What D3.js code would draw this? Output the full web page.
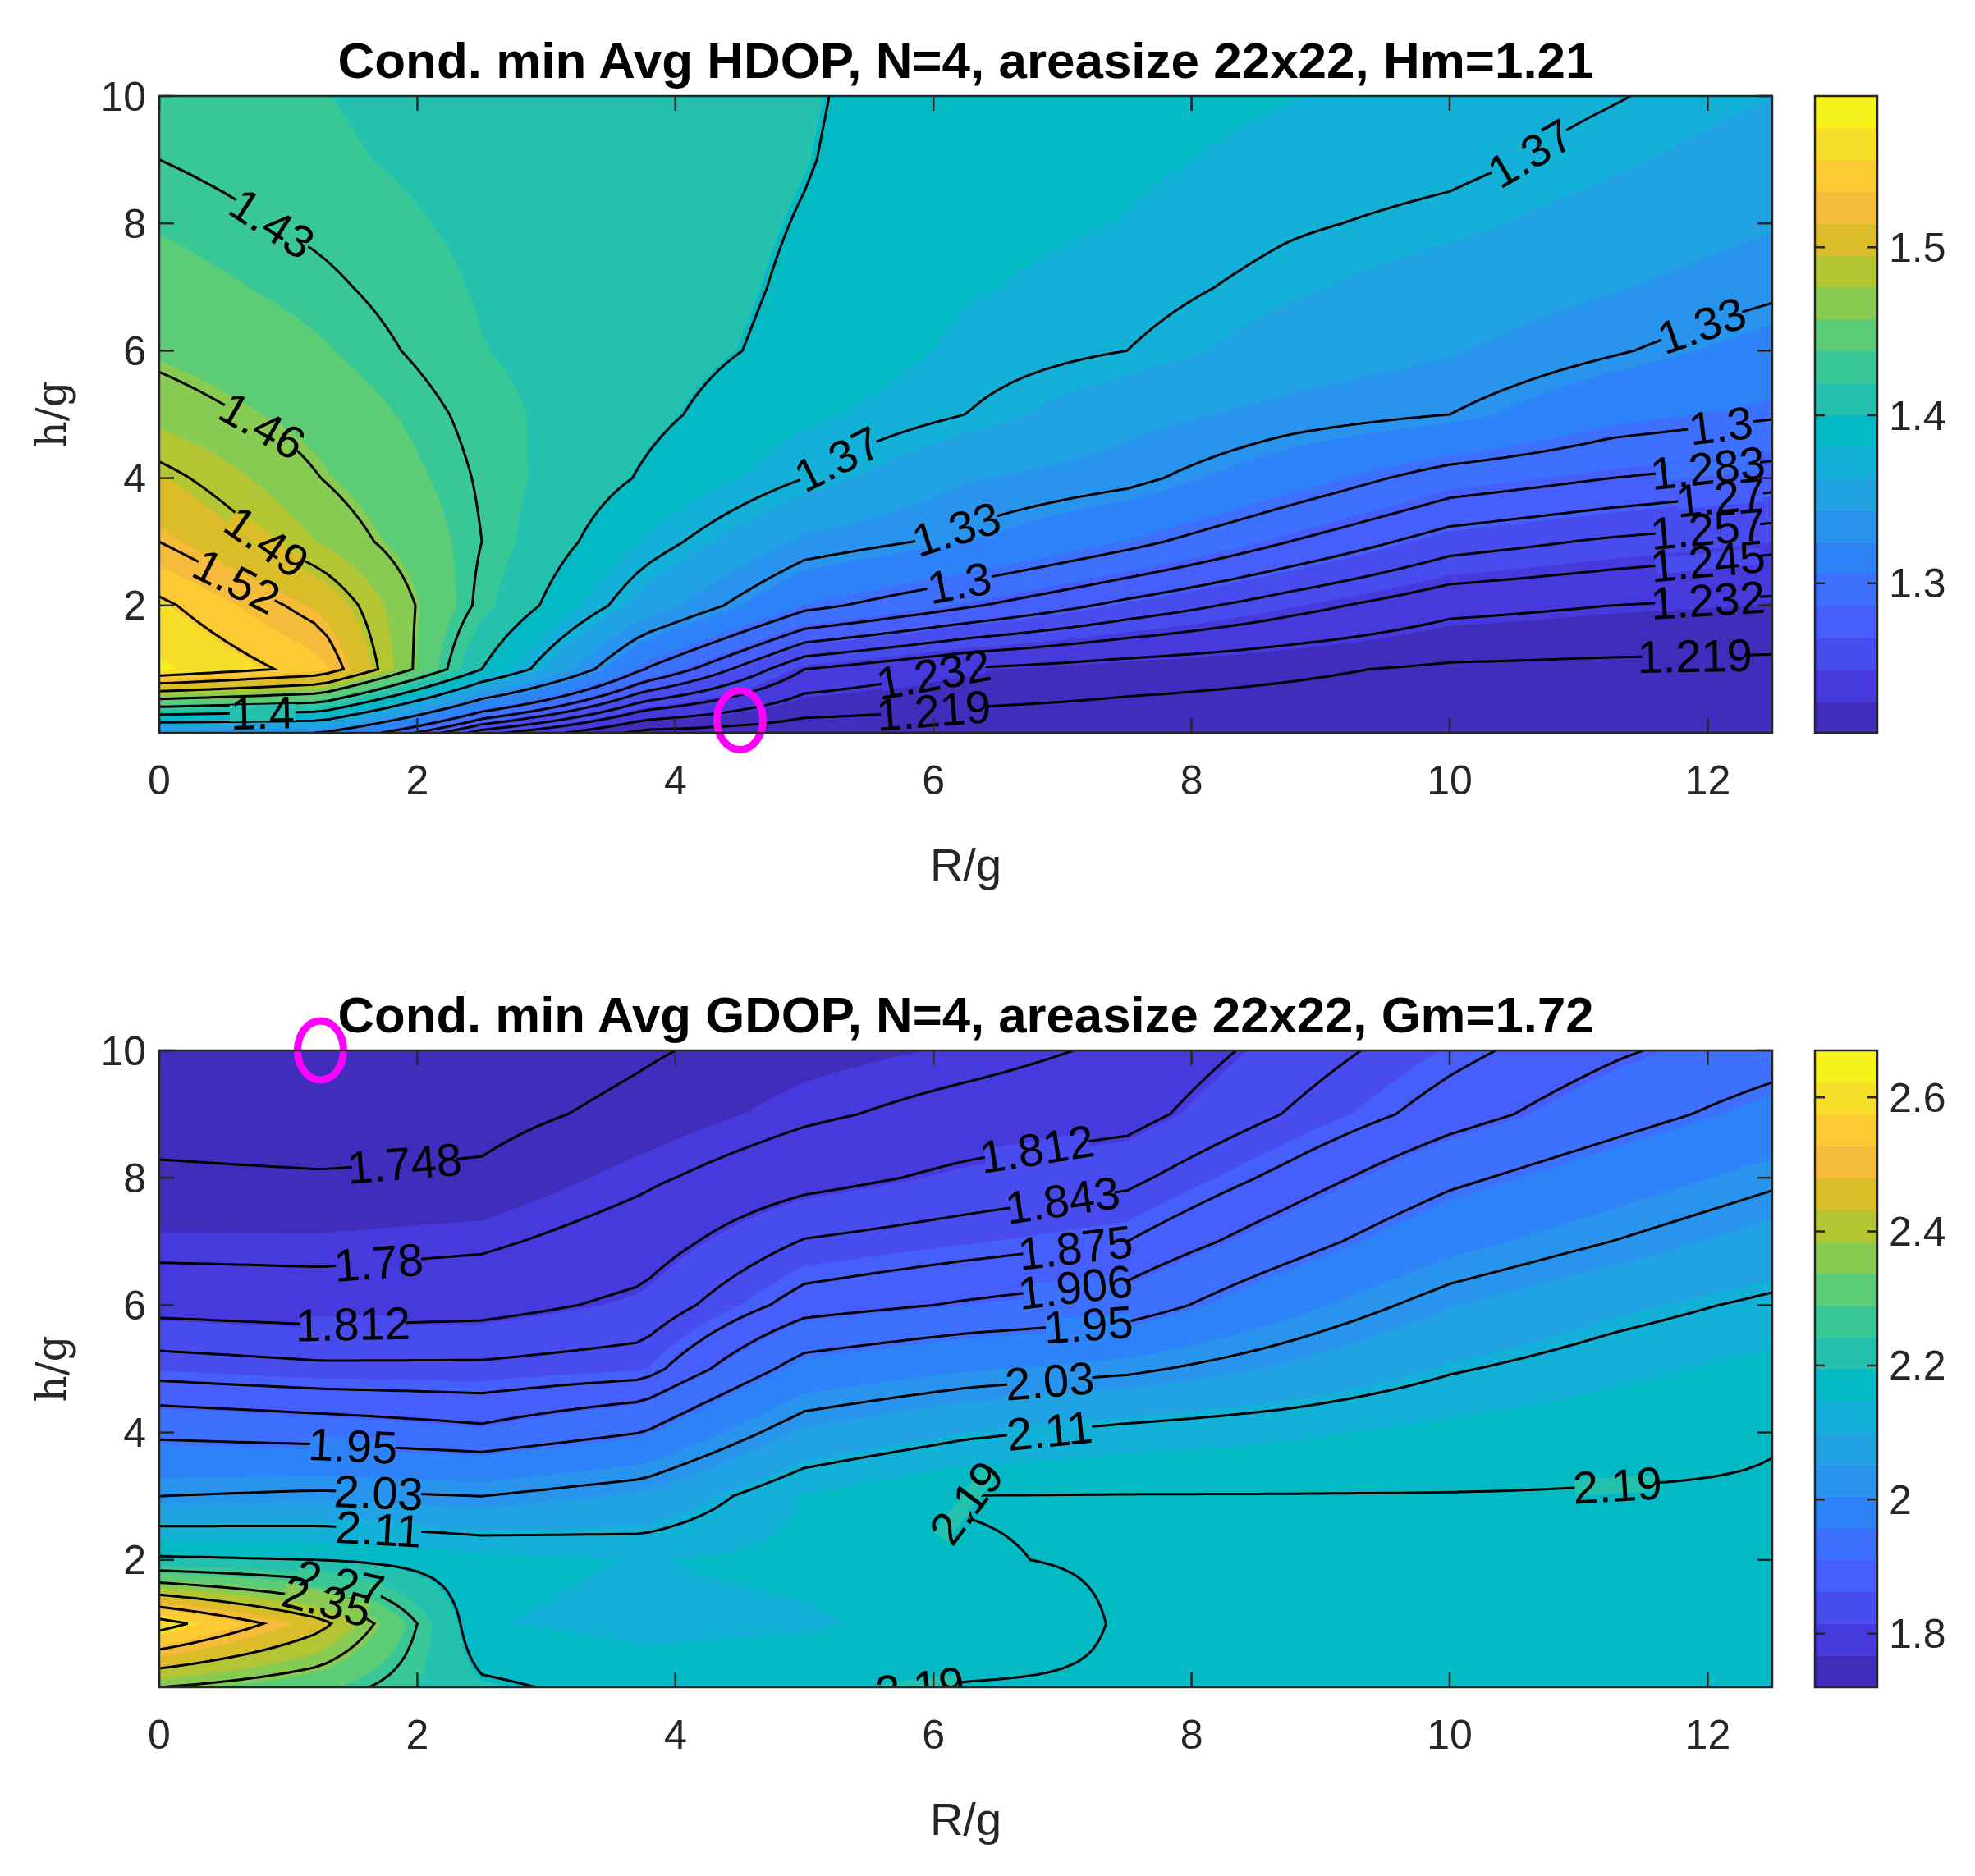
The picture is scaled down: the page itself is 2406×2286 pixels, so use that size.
<!DOCTYPE html><html><head><meta charset="utf-8">
<script src="https://cdn.jsdelivr.net/npm/d3@7"></script>
<style>body{margin:0;background:#fff}</style></head><body>
<svg id="c" width="2406" height="2286"></svg>
<script>
const xKnots=[0,1.25,2.5,3.75,5,6.25,7.5,8.75,10,11.25,12.5];
const yKnots=[0,1,2,3,4,5,6,7,8,9,10];
// hdop[xi][yi]
const hdop=[
[1.33,1.575,1.555,1.52,1.497,1.47,1.455,1.445,1.437,1.43,1.425],
[1.33,1.54,1.51,1.475,1.46,1.45,1.44,1.433,1.427,1.422,1.42],
[1.25,1.40,1.425,1.43,1.428,1.425,1.42,1.418,1.416,1.414,1.412],
[1.215,1.30,1.355,1.38,1.398,1.405,1.408,1.41,1.41,1.41,1.41],
[1.211,1.245,1.305,1.34,1.37,1.385,1.395,1.397,1.399,1.401,1.402],
[1.211,1.231,1.285,1.325,1.345,1.37,1.378,1.383,1.386,1.388,1.389],
[1.211,1.225,1.266,1.305,1.335,1.35,1.37,1.376,1.381,1.384,1.386],
[1.211,1.221,1.25,1.283,1.313,1.338,1.355,1.365,1.372,1.378,1.382],
[1.211,1.217,1.236,1.263,1.292,1.33,1.345,1.355,1.366,1.374,1.378],
[1.211,1.216,1.232,1.255,1.283,1.31,1.332,1.345,1.356,1.365,1.371],
[1.211,1.216,1.229,1.249,1.276,1.302,1.318,1.334,1.345,1.355,1.363]];
const gdop=[
[2.35,2.62,2.2,2.03,1.94,1.86,1.80,1.77,1.752,1.738,1.728],
[2.3,2.45,2.19,2.04,1.93,1.85,1.795,1.77,1.75,1.735,1.725],
[2.2,2.15,2.16,2.03,1.915,1.85,1.80,1.775,1.752,1.74,1.73],
[2.17,2.135,2.145,2.06,1.95,1.86,1.82,1.795,1.775,1.755,1.745],
[2.185,2.14,2.16,2.15,2.06,1.97,1.89,1.845,1.80,1.775,1.76],
[2.192,2.17,2.188,2.191,2.10,2.0,1.91,1.86,1.82,1.79,1.77],
[2.193,2.193,2.193,2.192,2.125,2.02,1.925,1.875,1.835,1.80,1.785],
[2.193,2.193,2.193,2.192,2.14,2.06,1.99,1.93,1.885,1.845,1.825],
[2.193,2.193,2.193,2.192,2.16,2.105,2.05,1.99,1.94,1.89,1.865],
[2.193,2.193,2.193,2.193,2.175,2.135,2.09,2.03,1.98,1.93,1.90],
[2.193,2.193,2.193,2.193,2.188,2.16,2.12,2.07,2.02,1.97,1.93]];
const hLevels=[1.219,1.232,1.245,1.257,1.27,1.283,1.3,1.33,1.37,1.4,1.43,1.46,1.49,1.52,1.55];
const gLevels=[1.748,1.78,1.812,1.843,1.875,1.906,1.95,2.03,2.11,2.19,2.27,2.35,2.43,2.51,2.59];
const hLabels=[[1.43,0.85,8.0],[1.46,0.75,4.8],[1.49,0.9,3.2],[1.52,0.6,2.2],[1.4,0.8,0.15],[1.37,5.3,4.2],[1.37,10.7,9],[1.33,6.1,3.5],[1.33,12,6.2],[1.3,12.1,4.7],[1.3,6.2,2.6],[1.283,12,4.1],[1.27,12.1,3.7],[1.257,12,3.2],[1.245,12,2.6],[1.232,12,2.0],[1.219,11.9,1.3],[1.219,6,0.8],[1.232,6,1.2]];
const gLabels=[[1.748,1.9,7.9],[1.78,1.7,6.4],[1.812,1.5,5.5],[1.812,6.8,8.7],[1.843,7,8],[1.875,7.1,7.3],[1.906,7.1,6.6],[1.95,1.5,3.8],[1.95,7.2,5.8],[2.03,1.7,2.8],[2.03,6.9,4.7],[2.11,6.9,3.7],[2.11,1.7,2.3],[2.19,5.3,2.2],[2.19,11.3,3.4],[2.19,4.8,0.3],[2.27,1.4,1.7],[2.35,1.3,1.3]];
const hCbTicks=[1.3,1.4,1.5], gCbTicks=[1.8,2,2.2,2.4,2.6];
const xTicks=[0,2,4,6,8,10,12], yTicks=[2,4,6,8,10];

const parulaTable=[[0.2422,0.1504,0.6603],[0.2504,0.1650,0.7076],[0.2578,0.1818,0.7511],[0.2647,0.1978,0.7952],[0.2706,0.2147,0.8364],[0.2751,0.2342,0.8710],[0.2783,0.2559,0.8991],[0.2803,0.2782,0.9221],[0.2813,0.3006,0.9414],[0.2810,0.3228,0.9579],[0.2795,0.3447,0.9717],[0.2760,0.3667,0.9829],[0.2699,0.3892,0.9906],[0.2602,0.4123,0.9952],[0.2440,0.4358,0.9988],[0.2206,0.4603,0.9973],[0.1963,0.4847,0.9892],[0.1834,0.5074,0.9798],[0.1786,0.5289,0.9682],[0.1764,0.5499,0.9520],[0.1687,0.5703,0.9359],[0.1540,0.5902,0.9218],[0.1460,0.6091,0.9079],[0.1380,0.6276,0.8973],[0.1248,0.6459,0.8883],[0.1113,0.6635,0.8763],[0.0952,0.6798,0.8598],[0.0689,0.6948,0.8394],[0.0297,0.7082,0.8163],[0.0036,0.7203,0.7917],[0.0067,0.7312,0.7660],[0.0433,0.7411,0.7394],[0.0964,0.7500,0.7120],[0.1408,0.7584,0.6842],[0.1717,0.7670,0.6554],[0.1938,0.7758,0.6251],[0.2161,0.7843,0.5923],[0.2470,0.7918,0.5567],[0.2906,0.7973,0.5188],[0.3406,0.8008,0.4789],[0.3909,0.8029,0.4354],[0.4456,0.8024,0.3909],[0.5044,0.7993,0.3480],[0.5616,0.7942,0.3045],[0.6174,0.7876,0.2612],[0.6720,0.7793,0.2227],[0.7242,0.7698,0.1910],[0.7738,0.7598,0.1646],[0.8203,0.7498,0.1535],[0.8634,0.7406,0.1596],[0.9035,0.7330,0.1774],[0.9393,0.7288,0.2100],[0.9728,0.7298,0.2394],[0.9956,0.7434,0.2371],[0.9970,0.7659,0.2199],[0.9952,0.7893,0.2028],[0.9892,0.8136,0.1885],[0.9786,0.8386,0.1766],[0.9676,0.8639,0.1643],[0.9610,0.8890,0.1537],[0.9597,0.9135,0.1423],[0.9628,0.9373,0.1265],[0.9691,0.9606,0.1064],[0.9769,0.9839,0.0805]];
const parula=d3.interpolateRgbBasis(parulaTable.map(c=>d3.rgb(c[0]*255,c[1]*255,c[2]*255)));
const svg=d3.select("#c");
const FONT="'Liberation Sans Narrow','Liberation Sans',sans-serif";
const NX=126,NY=101;
function upsample(grid){
 const v=new Array(NX*NY);
 const fx=d3.scaleLinear().domain(xKnots).range(d3.range(xKnots.length));
 const fy=d3.scaleLinear().domain(yKnots).range(d3.range(yKnots.length));
 for(let j=0;j<NY;j++)for(let i=0;i<NX;i++){
  const X=i/(NX-1)*12.5,Y=j/(NY-1)*10;
  let a=fx(X),b=fy(Y);let i0=Math.min(Math.floor(a),xKnots.length-2),j0=Math.min(Math.floor(b),yKnots.length-2);
  const tx=a-i0,ty=b-j0;
  v[j*NX+i]=grid[i0][j0]*(1-tx)*(1-ty)+grid[i0+1][j0]*tx*(1-ty)+grid[i0][j0+1]*(1-tx)*ty+grid[i0+1][j0+1]*tx*ty;
 }
 return v;
}
function panel(id,top,grid,vmin,vmax,levels,labels,cbTicks,title,circle){
 const L=194,R=2159,T=top,B=top+776;
 const x=d3.scaleLinear().domain([0,12.5]).range([L,R]);
 const y=d3.scaleLinear().domain([0,10]).range([B,T]);
 const g=svg.append("g");
 g.append("clipPath").attr("id",id).append("rect").attr("x",L).attr("y",T).attr("width",R-L).attr("height",B-T);
 const vals=upsample(grid);
 const gx=d=>x((d-0.5)/(NX-1)*12.5), gy=d=>y((d-0.5)/(NY-1)*10);
 const proj=d3.geoTransform({point:function(px,py){this.stream.point(gx(px),gy(py));}});
 const path=d3.geoPath(proj);
 const nb=20, step=(vmax-vmin)/nb, th=d3.range(nb).map(k=>vmin+k*step);
 const bandColor=v=>parula((Math.max(0,Math.min(nb-1,Math.floor((v-vmin)/step)))+0.5)/nb);
 const cg=g.append("g").attr("clip-path",`url(#${id})`);
 cg.append("rect").attr("x",L).attr("y",T).attr("width",R-L).attr("height",B-T).attr("fill",parula(0.5/nb));
 const cont=d3.contours().size([NX,NY]).smooth(true);
 th.forEach((t,k)=>{ if(k==0)return; cg.append("path").attr("d",path(cont.contour(vals,t))).attr("fill",parula((k+0.5)/nb)).attr("stroke",parula((k+0.5)/nb)).attr("stroke-width",0.5);});
 const lineFn=d3.line();
 const lines=[];
 levels.forEach(l=>{
  const mp=cont.contour(vals,l);
  mp.coordinates.forEach(poly=>poly.forEach(ring=>{
   let seg=[];
   ring.forEach(p=>{
    const onB=p[0]<=0.01||p[0]>=NX-0.01||p[1]<=0.01||p[1]>=NY-0.01;
    if(onB){if(seg.length>1)lines.push({l,pts:seg});seg=[];}
    else seg.push([gx(p[0]),gy(p[1])]);
   });
   if(seg.length>1)lines.push({l,pts:seg});
  }));
 });
 lines.forEach(s=>cg.append("path").attr("d",lineFn(s.pts)).attr("fill","none").attr("stroke","#000").attr("stroke-width",3));
 labels.forEach(([l,lx,ly])=>{
  const px=x(lx),py=y(ly);let best=null,bd=1e9,bs=null,bi=0;
  lines.filter(s=>s.l===l).forEach(s=>s.pts.forEach((p,i)=>{const d=Math.hypot(p[0]-px,p[1]-py);if(d<bd){bd=d;best=p;bs=s;bi=i;}}));
  if(!best)return;
  const p0=bs.pts[Math.max(0,bi-4)],p1=bs.pts[Math.min(bs.pts.length-1,bi+4)];
  let ang=Math.atan2(p1[1]-p0[1],p1[0]-p0[0])*180/Math.PI;if(ang>90)ang-=180;if(ang<-90)ang+=180;
  const txt=String(l);
  const lg=cg.append("g").attr("transform",`translate(${best[0]},${best[1]}) rotate(${ang})`);
  const w=txt.length*24;
  lg.append("rect").attr("x",-w/2-4).attr("y",-10).attr("width",w+8).attr("height",20).attr("fill",bandColor(l+step*0.3));
  lg.append("text").attr("text-anchor","middle").attr("dy","0.35em")
   .attr("font-family",FONT).attr("font-size",56).attr("fill","#000").text(txt);
 });
 g.append("ellipse").attr("cx",x(circle[0])).attr("cy",y(circle[1])).attr("rx",28).attr("ry",36).attr("fill","none").attr("stroke","#ff00ff").attr("stroke-width",9);
 g.append("rect").attr("x",L).attr("y",T).attr("width",R-L).attr("height",B-T).attr("fill","none").attr("stroke","#262626").attr("stroke-width",2.5);
 const ax=g.append("g").attr("font-family",FONT).attr("font-size",50).attr("fill","#262626");
 xTicks.forEach(t=>{ax.append("line").attr("x1",x(t)).attr("x2",x(t)).attr("y1",B).attr("y2",B-18).attr("stroke","#262626").attr("stroke-width",2.5);
  ax.append("line").attr("x1",x(t)).attr("x2",x(t)).attr("y1",T).attr("y2",T+18).attr("stroke","#262626").attr("stroke-width",2.5);
  ax.append("text").attr("x",x(t)).attr("y",B+75).attr("text-anchor","middle").text(t);});
 yTicks.forEach(t=>{ax.append("line").attr("x1",L).attr("x2",L+18).attr("y1",y(t)).attr("y2",y(t)).attr("stroke","#262626").attr("stroke-width",2.5);
  ax.append("line").attr("x1",R).attr("x2",R-18).attr("y1",y(t)).attr("y2",y(t)).attr("stroke","#262626").attr("stroke-width",2.5);
  ax.append("text").attr("x",L-16).attr("y",y(t)).attr("dy","0.35em").attr("text-anchor","end").text(t);});
 ax.append("text").attr("x",(L+R)/2).attr("y",B+180).attr("text-anchor","middle").attr("font-size",56).text("R/g");
 ax.append("text").attr("transform",`translate(80,${(T+B)/2}) rotate(-90)`).attr("text-anchor","middle").attr("font-size",50).attr("font-family","'DejaVu Serif',serif").text("h/g");
 g.append("text").attr("x",(L+R)/2).attr("y",T-22).attr("text-anchor","middle").attr("font-family",FONT).attr("font-weight","bold").attr("font-size",62)
  .attr("textLength",1530).attr("lengthAdjust","spacingAndGlyphs").attr("fill","#000").text(title);
 const cL=2211,cR=2287;
 const cy=d3.scaleLinear().domain([vmin,vmax]).range([B,T]);
 th.forEach((t,k)=>g.append("rect").attr("x",cL).attr("width",cR-cL).attr("y",cy(t+step)).attr("height",cy(t)-cy(t+step)+0.5).attr("fill",parula((k+0.5)/nb)));
 g.append("rect").attr("x",cL).attr("y",T).attr("width",cR-cL).attr("height",B-T).attr("fill","none").attr("stroke","#262626").attr("stroke-width",2.5);
 cbTicks.forEach(t=>{g.append("line").attr("x1",cL).attr("x2",cL+12).attr("y1",cy(t)).attr("y2",cy(t)).attr("stroke","#262626").attr("stroke-width",2.5);
  g.append("line").attr("x1",cR).attr("x2",cR-12).attr("y1",cy(t)).attr("y2",cy(t)).attr("stroke","#262626").attr("stroke-width",2.5);
  g.append("text").attr("x",cR+14).attr("y",cy(t)).attr("dy","0.35em").attr("font-family",FONT).attr("font-size",50).attr("fill","#262626").text(t);});
}
panel("cp1",117,hdop,1.211,1.59,hLevels,hLabels,hCbTicks,"Cond. min Avg HDOP, N=4, areasize 22x22, Hm=1.21",[4.5,0.2]);
panel("cp2",1280,gdop,1.72,2.67,gLevels,gLabels,gCbTicks,"Cond. min Avg GDOP, N=4, areasize 22x22, Gm=1.72",[1.25,10]);
</script></body></html>
